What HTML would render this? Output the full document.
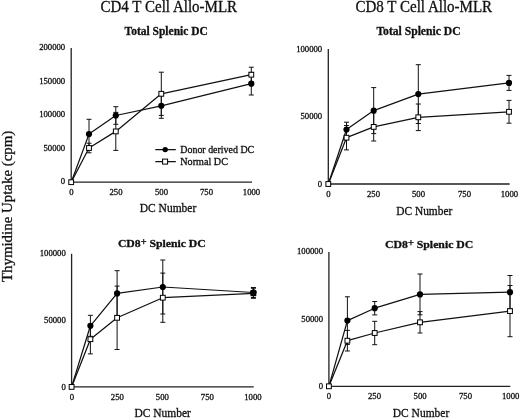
<!DOCTYPE html>
<html><head><meta charset="utf-8"><title>Thymidine Uptake</title>
<style>
html,body{margin:0;padding:0;background:#fff;}
body{width:520px;height:419px;overflow:hidden;}
svg{display:block;}
svg text{font-family:"Liberation Serif",serif;fill:#111;stroke:#111;stroke-width:0.3px;}
svg{filter:grayscale(1);}
</style></head>
<body>
<svg width="520" height="419" viewBox="0 0 520 419">
<rect width="520" height="419" fill="#fff"/>
<path d="M71.2 48V182.2H252" fill="none" stroke="#222" stroke-width="1.3"/>
<text x="65.2" y="50.3" font-size="8.7" text-anchor="end">200000</text>
<text x="65.2" y="83.8" font-size="8.7" text-anchor="end">150000</text>
<text x="65.2" y="117.3" font-size="8.7" text-anchor="end">100000</text>
<text x="65.2" y="150.9" font-size="8.7" text-anchor="end">50000</text>
<text x="65.2" y="184.4" font-size="8.7" text-anchor="end">0</text>
<text x="71.3" y="195.0" font-size="8.7" text-anchor="middle">0</text>
<text x="116" y="195.0" font-size="8.7" text-anchor="middle">250</text>
<text x="161.5" y="195.0" font-size="8.7" text-anchor="middle">500</text>
<text x="206.5" y="195.0" font-size="8.7" text-anchor="middle">750</text>
<text x="251.5" y="195.0" font-size="8.7" text-anchor="middle">1000</text>
<text x="139.75" y="212.2" font-size="12" text-anchor="start" textLength="56.5" lengthAdjust="spacingAndGlyphs">DC Number</text>
<path d="M71.20 182.20L89.00 134.10L115.80 115.50L161.30 105.80L251.30 83.70" fill="none" stroke="#111" stroke-width="1.25" stroke-linejoin="round"/>
<path d="M71.20 182.20L89.00 148.00L115.80 131.40L161.30 93.80L251.30 74.70" fill="none" stroke="#111" stroke-width="1.25" stroke-linejoin="round"/>
<path d="M89.00 119.30V148.90M86.50 119.30h5M86.50 148.90h5" fill="none" stroke="#111" stroke-width="1"/>
<path d="M89.00 143.20V152.80M86.50 143.20h5M86.50 152.80h5" fill="none" stroke="#111" stroke-width="1"/>
<path d="M115.80 106.70V124.30M113.30 106.70h5M113.30 124.30h5" fill="none" stroke="#111" stroke-width="1"/>
<path d="M115.80 112.40V150.40M113.30 112.40h5M113.30 150.40h5" fill="none" stroke="#111" stroke-width="1"/>
<path d="M161.30 93.30V118.30M158.80 93.30h5M158.80 118.30h5" fill="none" stroke="#111" stroke-width="1"/>
<path d="M161.30 72.20V115.40M158.80 72.20h5M158.80 115.40h5" fill="none" stroke="#111" stroke-width="1"/>
<path d="M251.30 72.40V95.00M248.80 72.40h5M248.80 95.00h5" fill="none" stroke="#111" stroke-width="1"/>
<path d="M251.30 67.20V82.20M248.80 67.20h5M248.80 82.20h5" fill="none" stroke="#111" stroke-width="1"/>
<circle cx="89.00" cy="134.10" r="3.1" fill="#000"/>
<circle cx="115.80" cy="115.50" r="3.1" fill="#000"/>
<circle cx="161.30" cy="105.80" r="3.1" fill="#000"/>
<circle cx="251.30" cy="83.70" r="3.1" fill="#000"/>
<rect x="86.60" y="145.60" width="4.8" height="4.8" fill="#fff" stroke="#000" stroke-width="1"/>
<rect x="113.40" y="129.00" width="4.8" height="4.8" fill="#fff" stroke="#000" stroke-width="1"/>
<rect x="158.90" y="91.40" width="4.8" height="4.8" fill="#fff" stroke="#000" stroke-width="1"/>
<rect x="248.90" y="72.30" width="4.8" height="4.8" fill="#fff" stroke="#000" stroke-width="1"/>
<rect x="68.80" y="179.80" width="4.8" height="4.8" fill="#fff" stroke="#000" stroke-width="1"/>
<path d="M328.3 49V184H509.6" fill="none" stroke="#222" stroke-width="1.3"/>
<text x="322.2" y="51.5" font-size="8.7" text-anchor="end">100000</text>
<text x="322.2" y="119.4" font-size="8.7" text-anchor="end">50000</text>
<text x="322.2" y="186.5" font-size="8.7" text-anchor="end">0</text>
<text x="328.3" y="197.0" font-size="8.7" text-anchor="middle">0</text>
<text x="373.5" y="197.0" font-size="8.7" text-anchor="middle">250</text>
<text x="418.5" y="197.0" font-size="8.7" text-anchor="middle">500</text>
<text x="464.5" y="197.0" font-size="8.7" text-anchor="middle">750</text>
<text x="509.4" y="197.0" font-size="8.7" text-anchor="middle">1000</text>
<text x="396.25" y="214.6" font-size="12" text-anchor="start" textLength="56.0" lengthAdjust="spacingAndGlyphs">DC Number</text>
<path d="M328.30 184.00L346.50 129.50L373.70 110.60L418.30 94.10L509.00 82.90" fill="none" stroke="#111" stroke-width="1.25" stroke-linejoin="round"/>
<path d="M328.30 184.00L346.50 137.70L373.70 126.90L418.30 117.30L509.00 111.80" fill="none" stroke="#111" stroke-width="1.25" stroke-linejoin="round"/>
<path d="M346.50 122.20V136.80M344.00 122.20h5M344.00 136.80h5" fill="none" stroke="#111" stroke-width="1"/>
<path d="M346.50 125.50V149.90M344.00 125.50h5M344.00 149.90h5" fill="none" stroke="#111" stroke-width="1"/>
<path d="M373.70 87.60V133.60M371.20 87.60h5M371.20 133.60h5" fill="none" stroke="#111" stroke-width="1"/>
<path d="M373.70 112.80V141.00M371.20 112.80h5M371.20 141.00h5" fill="none" stroke="#111" stroke-width="1"/>
<path d="M418.30 64.70V123.50M415.80 64.70h5M415.80 123.50h5" fill="none" stroke="#111" stroke-width="1"/>
<path d="M418.30 104.00V130.60M415.80 104.00h5M415.80 130.60h5" fill="none" stroke="#111" stroke-width="1"/>
<path d="M509.00 75.40V90.40M506.50 75.40h5M506.50 90.40h5" fill="none" stroke="#111" stroke-width="1"/>
<path d="M509.00 100.40V123.20M506.50 100.40h5M506.50 123.20h5" fill="none" stroke="#111" stroke-width="1"/>
<circle cx="346.50" cy="129.50" r="3.1" fill="#000"/>
<circle cx="373.70" cy="110.60" r="3.1" fill="#000"/>
<circle cx="418.30" cy="94.10" r="3.1" fill="#000"/>
<circle cx="509.00" cy="82.90" r="3.1" fill="#000"/>
<rect x="344.10" y="135.30" width="4.8" height="4.8" fill="#fff" stroke="#000" stroke-width="1"/>
<rect x="371.30" y="124.50" width="4.8" height="4.8" fill="#fff" stroke="#000" stroke-width="1"/>
<rect x="415.90" y="114.90" width="4.8" height="4.8" fill="#fff" stroke="#000" stroke-width="1"/>
<rect x="506.60" y="109.40" width="4.8" height="4.8" fill="#fff" stroke="#000" stroke-width="1"/>
<rect x="325.90" y="181.60" width="4.8" height="4.8" fill="#fff" stroke="#000" stroke-width="1"/>
<path d="M71.6 253.75V386.9H253.75" fill="none" stroke="#222" stroke-width="1.3"/>
<text x="65.8" y="255.6" font-size="8.7" text-anchor="end">100000</text>
<text x="65.8" y="322.75" font-size="8.7" text-anchor="end">50000</text>
<text x="65.8" y="389.8" font-size="8.7" text-anchor="end">0</text>
<text x="72.0" y="399.8" font-size="8.7" text-anchor="middle">0</text>
<text x="117.3" y="399.8" font-size="8.7" text-anchor="middle">250</text>
<text x="162.3" y="399.8" font-size="8.7" text-anchor="middle">500</text>
<text x="207.3" y="399.8" font-size="8.7" text-anchor="middle">750</text>
<text x="252.9" y="399.8" font-size="8.7" text-anchor="middle">1000</text>
<text x="134.4" y="417.45" font-size="12" text-anchor="start" textLength="56.5" lengthAdjust="spacingAndGlyphs">DC Number</text>
<path d="M71.60 386.90L90.40 325.80L117.10 293.40L162.80 287.00L253.40 292.50" fill="none" stroke="#111" stroke-width="1.25" stroke-linejoin="round"/>
<path d="M71.60 386.90L90.40 339.20L117.10 317.80L162.80 297.70L253.40 293.30" fill="none" stroke="#111" stroke-width="1.25" stroke-linejoin="round"/>
<path d="M90.40 315.30V336.30M87.90 315.30h5M87.90 336.30h5" fill="none" stroke="#111" stroke-width="1"/>
<path d="M90.40 324.50V353.90M87.90 324.50h5M87.90 353.90h5" fill="none" stroke="#111" stroke-width="1"/>
<path d="M117.10 270.70V316.10M114.60 270.70h5M114.60 316.10h5" fill="none" stroke="#111" stroke-width="1"/>
<path d="M117.10 286.10V349.50M114.60 286.10h5M114.60 349.50h5" fill="none" stroke="#111" stroke-width="1"/>
<path d="M162.80 260.00V314.00M160.30 260.00h5M160.30 314.00h5" fill="none" stroke="#111" stroke-width="1"/>
<path d="M162.80 273.10V322.30M160.30 273.10h5M160.30 322.30h5" fill="none" stroke="#111" stroke-width="1"/>
<path d="M253.40 287.50V297.50M250.90 287.50h5M250.90 297.50h5" fill="none" stroke="#111" stroke-width="1"/>
<path d="M253.40 288.30V298.30M250.90 288.30h5M250.90 298.30h5" fill="none" stroke="#111" stroke-width="1"/>
<circle cx="90.40" cy="325.80" r="3.1" fill="#000"/>
<circle cx="117.10" cy="293.40" r="3.1" fill="#000"/>
<circle cx="162.80" cy="287.00" r="3.1" fill="#000"/>
<circle cx="253.40" cy="292.50" r="3.1" fill="#000"/>
<rect x="88.00" y="336.80" width="4.8" height="4.8" fill="#fff" stroke="#000" stroke-width="1"/>
<rect x="114.70" y="315.40" width="4.8" height="4.8" fill="#fff" stroke="#000" stroke-width="1"/>
<rect x="160.40" y="295.30" width="4.8" height="4.8" fill="#fff" stroke="#000" stroke-width="1"/>
<rect x="251.00" y="290.90" width="4.8" height="4.8" fill="#fff" stroke="#000" stroke-width="1"/>
<rect x="250.90" y="290.70" width="5" height="5.2" fill="#000"/>
<circle cx="253.40" cy="292.50" r="3.0" fill="#000"/>
<rect x="69.20" y="384.50" width="4.8" height="4.8" fill="#fff" stroke="#000" stroke-width="1"/>
<path d="M328.9 252V386.3H510.3" fill="none" stroke="#222" stroke-width="1.3"/>
<text x="323.0" y="254" font-size="8.7" text-anchor="end">100000</text>
<text x="323.0" y="321.9" font-size="8.7" text-anchor="end">50000</text>
<text x="323.0" y="388.8" font-size="8.7" text-anchor="end">0</text>
<text x="329.0" y="399.0" font-size="8.7" text-anchor="middle">0</text>
<text x="374.5" y="399.0" font-size="8.7" text-anchor="middle">250</text>
<text x="420.1" y="399.0" font-size="8.7" text-anchor="middle">500</text>
<text x="465.5" y="399.0" font-size="8.7" text-anchor="middle">750</text>
<text x="510.7" y="399.0" font-size="8.7" text-anchor="middle">1000</text>
<text x="392.75" y="417.09999999999997" font-size="12" text-anchor="start" textLength="56.5" lengthAdjust="spacingAndGlyphs">DC Number</text>
<path d="M328.90 386.30L347.40 320.60L374.70 308.20L420.00 294.40L510.00 292.20" fill="none" stroke="#111" stroke-width="1.25" stroke-linejoin="round"/>
<path d="M328.90 386.30L347.40 340.70L374.70 333.00L420.00 322.30L510.00 311.10" fill="none" stroke="#111" stroke-width="1.25" stroke-linejoin="round"/>
<path d="M347.40 296.80V344.40M344.90 296.80h5M344.90 344.40h5" fill="none" stroke="#111" stroke-width="1"/>
<path d="M347.40 330.40V351.00M344.90 330.40h5M344.90 351.00h5" fill="none" stroke="#111" stroke-width="1"/>
<path d="M374.70 301.50V314.90M372.20 301.50h5M372.20 314.90h5" fill="none" stroke="#111" stroke-width="1"/>
<path d="M374.70 321.30V344.70M372.20 321.30h5M372.20 344.70h5" fill="none" stroke="#111" stroke-width="1"/>
<path d="M420.00 274.00V314.80M417.50 274.00h5M417.50 314.80h5" fill="none" stroke="#111" stroke-width="1"/>
<path d="M420.00 311.60V333.00M417.50 311.60h5M417.50 333.00h5" fill="none" stroke="#111" stroke-width="1"/>
<path d="M510.00 275.50V308.90M507.50 275.50h5M507.50 308.90h5" fill="none" stroke="#111" stroke-width="1"/>
<path d="M510.00 285.50V336.70M507.50 285.50h5M507.50 336.70h5" fill="none" stroke="#111" stroke-width="1"/>
<circle cx="347.40" cy="320.60" r="3.1" fill="#000"/>
<circle cx="374.70" cy="308.20" r="3.1" fill="#000"/>
<circle cx="420.00" cy="294.40" r="3.1" fill="#000"/>
<circle cx="510.00" cy="292.20" r="3.1" fill="#000"/>
<rect x="345.00" y="338.30" width="4.8" height="4.8" fill="#fff" stroke="#000" stroke-width="1"/>
<rect x="372.30" y="330.60" width="4.8" height="4.8" fill="#fff" stroke="#000" stroke-width="1"/>
<rect x="417.60" y="319.90" width="4.8" height="4.8" fill="#fff" stroke="#000" stroke-width="1"/>
<rect x="507.60" y="308.70" width="4.8" height="4.8" fill="#fff" stroke="#000" stroke-width="1"/>
<rect x="326.50" y="383.90" width="4.8" height="4.8" fill="#fff" stroke="#000" stroke-width="1"/>
<text x="100.5" y="11.7" font-size="15.9" text-anchor="start" textLength="136.6" lengthAdjust="spacingAndGlyphs">CD4 T Cell Allo-MLR</text>
<text x="355.5" y="11.7" font-size="15.9" text-anchor="start" textLength="136.6" lengthAdjust="spacingAndGlyphs">CD8 T Cell Allo-MLR</text>
<text x="124.6" y="35.0" font-size="11.9" text-anchor="start" font-weight="bold" textLength="83.2" lengthAdjust="spacingAndGlyphs">Total Splenic DC</text>
<text x="376.4" y="35.0" font-size="11.9" text-anchor="start" font-weight="bold" textLength="84.2" lengthAdjust="spacingAndGlyphs">Total Splenic DC</text>
<text x="117.9" y="247" font-size="11.4" font-weight="bold" textLength="87.9" lengthAdjust="spacingAndGlyphs">CD8<tspan dy="-1.8" font-size="10">+</tspan><tspan dy="1.8"> Splenic DC</tspan></text>
<text x="385.1" y="247.6" font-size="11.4" font-weight="bold" textLength="88.2" lengthAdjust="spacingAndGlyphs">CD8<tspan dy="-1.8" font-size="10">+</tspan><tspan dy="1.8"> Splenic DC</tspan></text>
<path d="M155.3 149.6H175.8M155.3 161.6H175.8" stroke="#111" stroke-width="1.3"/>
<circle cx="165.2" cy="149.6" r="2.7" fill="#000"/>
<rect x="162.6" y="159.1" width="5" height="5" fill="#fff" stroke="#000" stroke-width="1"/>
<text x="180.3" y="152.5" font-size="9.9" text-anchor="start" textLength="73.9" lengthAdjust="spacingAndGlyphs">Donor derived DC</text>
<text x="180.3" y="164.6" font-size="9.9" text-anchor="start" textLength="47.6" lengthAdjust="spacingAndGlyphs">Normal DC</text>
<text transform="translate(11.8 282.1) rotate(-90)" x="0" y="0" font-size="14" textLength="151.4" lengthAdjust="spacingAndGlyphs">Thymidine Uptake (cpm)</text>
</svg>
</body></html>
